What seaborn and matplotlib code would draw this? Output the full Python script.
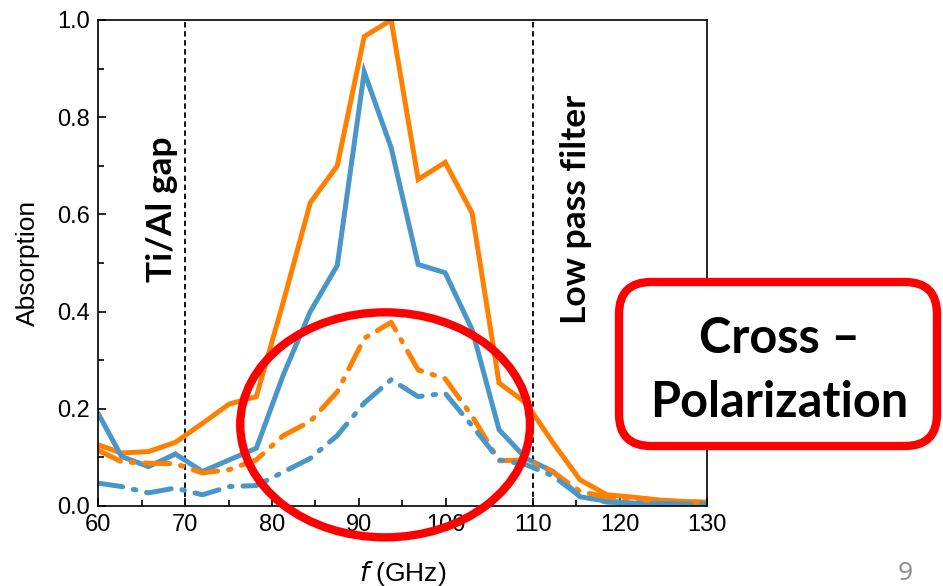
import numpy as np
import pandas as pd
import seaborn as sns
import matplotlib
matplotlib.use("Agg")
import matplotlib.pyplot as plt
from matplotlib.patches import Ellipse, FancyBboxPatch
from matplotlib.transforms import IdentityTransform
from matplotlib.ticker import MultipleLocator, FormatStrFormatter

# Frequency grid (GHz)
freq = [60.0, 62.7, 65.8, 68.9, 72.0, 75.1, 78.2, 81.3, 84.4, 87.5, 90.6, 93.7,
        96.8, 99.9, 103.0, 106.1, 109.2, 112.3, 115.4, 118.5, 121.6, 124.7, 127.8, 130.0]

# Absorption, solid traces
orange_solid = [0.126, 0.109, 0.112, 0.131, 0.170, 0.210, 0.225, 0.420, 0.624, 0.700, 0.966, 1.000,
                0.672, 0.707, 0.603, 0.253, 0.212, 0.130, 0.054, 0.023, 0.018, 0.012, 0.009, 0.008]
blue_solid = [0.191, 0.102, 0.081, 0.107, 0.071, 0.095, 0.119, 0.270, 0.400, 0.495, 0.893, 0.737,
              0.497, 0.480, 0.363, 0.157, 0.098, 0.071, 0.019, 0.010, 0.006, 0.005, 0.004, 0.004]

# Absorption, dash-dot traces
orange_dashdot = [0.115, 0.091, 0.088, 0.087, 0.068, 0.075, 0.095, 0.145, 0.174, 0.235, 0.345, 0.378,
                  0.280, 0.262, 0.185, 0.093, 0.095, 0.070, 0.030, 0.018, 0.014, 0.010, 0.008, 0.007]
blue_dashdot = [0.047, 0.040, 0.027, 0.037, 0.023, 0.040, 0.042, 0.070, 0.098, 0.145, 0.212, 0.260,
                0.225, 0.232, 0.165, 0.095, 0.085, 0.062, 0.020, 0.008, 0.006, 0.005, 0.004, 0.004]

band_edges = [70, 110]
band_labels = ["Ti/Al gap", "Low pass filter"]
box_lines = ["Cross \u2013", "Polarization"]

ORANGE = "#ff8000"
BLUE = "#4a96c8"

sns.set_theme(style="white")
plt.rcParams["font.family"] = ["Liberation Sans", "DejaVu Sans"]
plt.rcParams["text.color"] = "black"
plt.rcParams["axes.labelcolor"] = "black"

fig = plt.figure(figsize=(9.43, 5.86), dpi=100)
ax = fig.add_axes([98 / 943, 1 - 506 / 586, (707 - 98) / 943, (506 - 20) / 586])

dashdot = (0, (5.0, 2.2, 0.5, 2.2))
series = [
    (orange_solid, ORANGE, "-"),
    (blue_solid, BLUE, "-"),
    (orange_dashdot, ORANGE, dashdot),
    (blue_dashdot, BLUE, dashdot),
]
for vals, col, ls in series:
    sns.lineplot(x=freq, y=vals, ax=ax, color=col, linewidth=3.6,
                 linestyle=ls, solid_joinstyle="miter", dash_capstyle="round")

for xv in band_edges:
    ax.axvline(xv, color="black", lw=1.3, linestyle=(0, (3, 2)), zorder=1)

ax.set_xlim(60, 130)
ax.set_ylim(0, 1.0)
ax.xaxis.set_major_locator(MultipleLocator(10))
ax.xaxis.set_minor_locator(MultipleLocator(5))
ax.yaxis.set_major_locator(MultipleLocator(0.2))
ax.yaxis.set_minor_locator(MultipleLocator(0.1))
ax.yaxis.set_major_formatter(FormatStrFormatter("%.1f"))
ax.tick_params(which="both", direction="in", bottom=True, left=True, top=False, right=False,
               colors="black", labelcolor="black", labelsize=17, width=1.2)
ax.tick_params(which="major", length=6, pad=6)
ax.tick_params(which="minor", length=4)
for sp in ax.spines.values():
    sp.set_color("black")
    sp.set_linewidth(1.2)

ax.set_xlabel("$\\mathit{f}$ (GHz)", fontsize=19, labelpad=16)
ax.set_ylabel("Absorption", fontsize=19, labelpad=12)

# Band annotations
for xpos, label in zip([67.3, 114.9], band_labels):
    ax.text(xpos, 0.61, label, rotation=90, ha="center", va="center", color="black",
            fontsize=25.5, fontweight="bold", family=["Lato", "DejaVu Sans"])

# Highlight ellipse around the cross-polarized response
ax.add_patch(Ellipse((93.0, 0.167), width=33.3, height=0.463, fill=False,
                     edgecolor="#ff0000", lw=6, clip_on=False, zorder=5))

# Rounded label box (display-pixel coordinates)
box = FancyBboxPatch((619, 140), 318, 164, boxstyle="round,pad=0,rounding_size=32",
                     transform=IdentityTransform(), facecolor="white",
                     edgecolor="#ff0000", lw=6, zorder=6)
fig.patches.append(box)
for line, base_px in zip(box_lines, [353, 417]):
    fig.text(779 / 943, 1 - base_px / 586, line, ha="center", va="baseline", color="black",
             fontsize=35, fontweight="bold", family=["Lato", "DejaVu Sans"], zorder=7)

# Slide number
fig.text(905 / 943, 1 - 573 / 586, "9", ha="center", va="center",
         fontsize=19, color="#8c8c8c", family=["Open Sans", "DejaVu Sans"])

fig.savefig("out.png", dpi=100)
